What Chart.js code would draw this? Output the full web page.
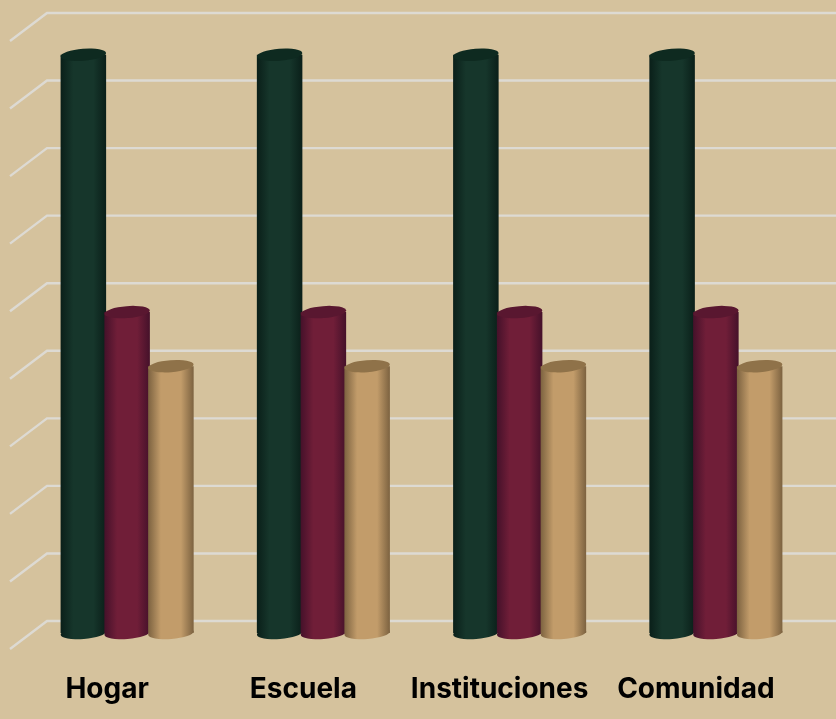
<!DOCTYPE html>
<html>
<head>
<meta charset="utf-8">
<title>Chart</title>
<script src="https://cdn.jsdelivr.net/npm/chart.js@4"></script>
<style>
  html, body { margin: 0; padding: 0; background: #d5c29d; }
  #wrap { width: 836px; height: 719px; }
</style>
</head>
<body>
<div id="wrap"><canvas id="chart"></canvas></div>
<script>
const categories = ["Hogar", "Escuela", "Instituciones", "Comunidad"];
const serieVerde = [8.56, 8.56, 8.56, 8.56];
const serieGuinda = [4.75, 4.75, 4.75, 4.75];
const serieArena = [3.95, 3.95, 3.95, 3.95];

// edge, centre and lid colour of each cylinder
const shades = [
    { edge: "#0a1f19", mid: "#16362b", lid: "#0e2a20" },
    { edge: "#45112a", mid: "#701e38", lid: "#591730" },
    { edge: "#7c6240", mid: "#c29c6a", lid: "#8f7249" }
];

const DEPTH_X = 37, DEPTH_Y = 28;   // floor diagonal of the fake 3D wall
const WALL_SHIFT = 12;              // wall lines sit behind the bars' plane

function barGradient(ctx, el, s) {
    let g = ctx.createLinearGradient(el.x - el.width / 2, 0, el.x + el.width / 2, 0);
    g.addColorStop(0, s.edge);
    g.addColorStop(0.28, s.mid);
    g.addColorStop(0.72, s.mid);
    g.addColorStop(1, s.edge);
    return g;
}

function drawWall(chart) {
    const { ctx, scales: { y } } = chart;
    ctx.save();
    ctx.strokeStyle = "#dddad3";
    ctx.lineWidth = 2.4;
    y.ticks.forEach((t, i) => {
        let py = y.getPixelForTick(i) - WALL_SHIFT;
        ctx.beginPath();
        ctx.moveTo(10, py + DEPTH_Y);
        ctx.lineTo(10 + DEPTH_X, py);
        ctx.lineTo(chart.width, py);
        ctx.stroke();
    });
    ctx.restore();
}

// turns the flat bars into cylinders: gradient body, rounded foot, darker lid
function drawCylinder(ctx, el, s) {
    const tilt = -4.5 * Math.PI / 180;
    let rx = el.width / 2;
    let fill = barGradient(ctx, el, s);
    el.options = Object.assign({}, el.options, { backgroundColor: fill });
    el.draw(ctx);
    ctx.save();
    ctx.fillStyle = fill;
    ctx.beginPath();
    ctx.ellipse(el.x, el.base, rx, 6, tilt, 0, Math.PI * 2);
    ctx.fill();
    ctx.fillStyle = s.lid;
    ctx.beginPath();
    ctx.ellipse(el.x, el.y, rx, 6, tilt, 0, Math.PI * 2);
    ctx.fill();
    ctx.restore();
}

const cylinders = {
    id: "cylinders",
    beforeDatasetsDraw(chart) {
        drawWall(chart);
        // left to right, so each bar overlaps the one before it
        chart.data.datasets.forEach((d, i) => {
            chart.getDatasetMeta(i).data.forEach(el => drawCylinder(chart.ctx, el, shades[i]));
        });
        return false;
    }
};

new Chart(document.getElementById("chart"), {
    type: "bar",
    data: {
        labels: categories,
        datasets: [
            { data: serieVerde },
            { data: serieGuinda },
            { data: serieArena }
        ]
    },
    options: {
        responsive: true,
        maintainAspectRatio: false,
        animation: false,
        categoryPercentage: 0.669,
        barPercentage: 1.04,
        layout: { padding: { top: 25, left: 29, right: 22, bottom: 0 } },
        plugins: { legend: { display: false }, tooltip: { enabled: false } },
        scales: {
            x: {
                grid: { display: false },
                border: { display: false },
                afterFit(scale) { scale.height = 86; },
                ticks: {
                    color: "#000",
                    padding: 32,
                    labelOffset: -20,
                    maxRotation: 0,
                    autoSkip: false,
                    font: { family: "Inter", size: 28, weight: "bold" }
                }
            },
            y: {
                display: false,
                min: 0,
                max: 9,
                ticks: { stepSize: 1 }
            }
        }
    },
    plugins: [cylinders]
});
</script>
</body>
</html>
